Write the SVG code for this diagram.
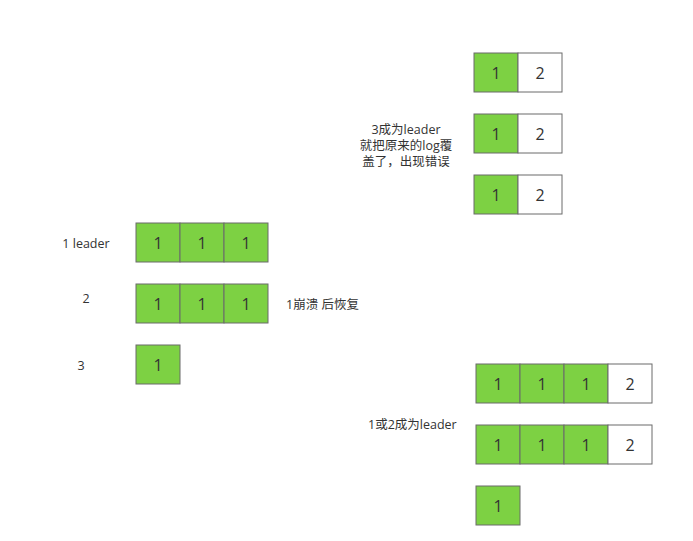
<svg xmlns="http://www.w3.org/2000/svg" width="693" height="541" viewBox="0 0 693 541">
<style>
.g{fill:#7dd143;stroke:#6b6b6b;stroke-width:1}
.w{fill:#ffffff;stroke:#6b6b6b;stroke-width:1}
.n{font-family:"Open Sans","Noto Sans",sans-serif;font-size:16px;fill:#333;text-anchor:middle;dominant-baseline:central}
.l{font-family:"Open Sans","Noto Sans CJK SC",sans-serif;font-size:12.5px;fill:#333;dominant-baseline:central}
</style>
<rect width="693" height="541" fill="#fff"/>
<g id="left-labels">
<text class="l" x="86" y="243" text-anchor="middle">1 leader</text>
<text class="l" x="86" y="298" text-anchor="middle">2</text>
<text class="l" x="81" y="365" text-anchor="middle">3</text>
<text class="l" x="286" y="304">1崩溃 后恢复</text>
</g>
<g id="row1">
<rect class="g" x="136" y="223" width="44" height="39"/><text class="n" x="158" y="243">1</text>
<rect class="g" x="180" y="223" width="44" height="39"/><text class="n" x="202" y="243">1</text>
<rect class="g" x="224" y="223" width="44" height="39"/><text class="n" x="246" y="243">1</text>
</g>
<g id="row2">
<rect class="g" x="136" y="284" width="44" height="39"/><text class="n" x="158" y="304">1</text>
<rect class="g" x="180" y="284" width="44" height="39"/><text class="n" x="202" y="304">1</text>
<rect class="g" x="224" y="284" width="44" height="39"/><text class="n" x="246" y="304">1</text>
</g>
<g id="row3">
<rect class="g" x="136" y="345" width="44" height="39"/><text class="n" x="158" y="365">1</text>
</g>
<g id="tr1">
<rect class="g" x="474" y="53" width="44" height="39"/><text class="n" x="496" y="73">1</text>
<rect class="w" x="518" y="53" width="44" height="39"/><text class="n" x="540" y="73">2</text>
</g>
<g id="tr2">
<rect class="g" x="474" y="114" width="44" height="39"/><text class="n" x="496" y="134">1</text>
<rect class="w" x="518" y="114" width="44" height="39"/><text class="n" x="540" y="134">2</text>
</g>
<g id="tr3">
<rect class="g" x="474" y="175" width="44" height="39"/><text class="n" x="496" y="195">1</text>
<rect class="w" x="518" y="175" width="44" height="39"/><text class="n" x="540" y="195">2</text>
</g>
<g id="tr-label">
<text class="l" x="406" y="129" text-anchor="middle">3成为leader</text>
<text class="l" x="406" y="145" text-anchor="middle">就把原来的log覆</text>
<text class="l" x="406" y="161" text-anchor="middle">盖了，出现错误</text>
</g>
<g id="br1">
<rect class="g" x="476" y="364" width="44" height="39"/><text class="n" x="498" y="384">1</text>
<rect class="g" x="520" y="364" width="44" height="39"/><text class="n" x="542" y="384">1</text>
<rect class="g" x="564" y="364" width="44" height="39"/><text class="n" x="586" y="384">1</text>
<rect class="w" x="608" y="364" width="44" height="39"/><text class="n" x="630" y="384">2</text>
</g>
<g id="br2">
<rect class="g" x="476" y="425" width="44" height="39"/><text class="n" x="498" y="445">1</text>
<rect class="g" x="520" y="425" width="44" height="39"/><text class="n" x="542" y="445">1</text>
<rect class="g" x="564" y="425" width="44" height="39"/><text class="n" x="586" y="445">1</text>
<rect class="w" x="608" y="425" width="44" height="39"/><text class="n" x="630" y="445">2</text>
</g>
<g id="br3">
<rect class="g" x="476" y="486" width="44" height="39"/><text class="n" x="498" y="506">1</text>
</g>
<g id="br-label">
<text class="l" x="368" y="424">1或2成为leader</text>
</g>
<g id="connectors"></g>
</svg>
